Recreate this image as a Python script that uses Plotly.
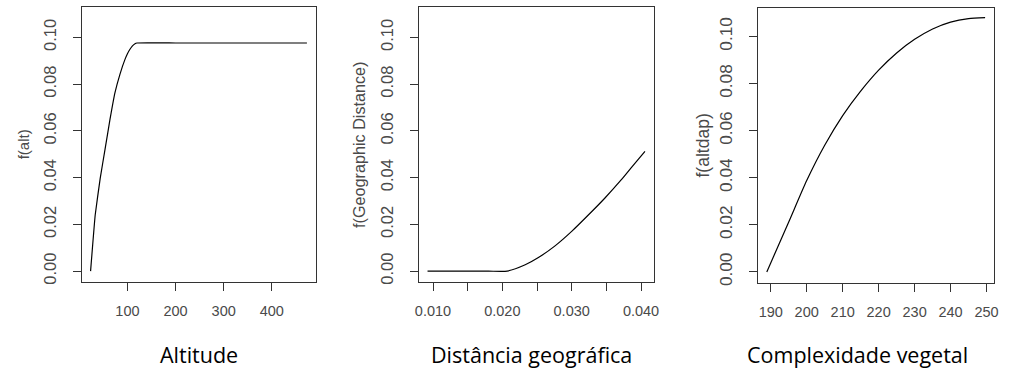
import plotly.graph_objects as go

# ---- data ----
alt_x = [23.4, 33, 43.3, 53.6, 63.8, 74.1, 84.4, 94.7, 100, 104.9, 110, 115, 120, 200, 300, 400, 473]
alt_y = [0.0, 0.024, 0.0396, 0.0523, 0.065, 0.0764, 0.0842, 0.0905, 0.0930, 0.0948, 0.0963, 0.0972, 0.0976, 0.0976, 0.0976, 0.0976, 0.0976]

geo_x = [0.00921, 0.012, 0.015, 0.018, 0.0207, 0.0233, 0.0252, 0.0276, 0.0300, 0.0324, 0.0348, 0.0371, 0.0386, 0.04057]
geo_y = [0.0, 0.0, 0.0, 0.0, 0.0, 0.0027, 0.0058, 0.0108, 0.0170, 0.0240, 0.0313, 0.0389, 0.0443, 0.0512]

veg_x = [188.9, 195, 200, 205, 210, 215, 220, 225, 230, 235, 240, 245, 249.6]
veg_y = [0.0, 0.0212, 0.0388, 0.0538, 0.0664, 0.0768, 0.0857, 0.0930, 0.0988, 0.1032, 0.1061, 0.1076, 0.1080]

y_ticks = [0.0, 0.02, 0.04, 0.06, 0.08, 0.10]
y_ticktext = ["0.00", "0.02", "0.04", "0.06", "0.08", "0.10"]
alt_ticks = [100, 200, 300, 400]
geo_ticks = [0.010, 0.015, 0.020, 0.025, 0.030, 0.035, 0.040]
geo_ticktext = ["0.010", "", "0.020", "", "0.030", "", "0.040"]
veg_ticks = [190, 200, 210, 220, 230, 240, 250]

y_titles = ["f(alt)", "f(Geographic Distance)", "f(altdap)"]
x_captions = ["Altitude", "Distância geográfica", "Complexidade vegetal"]

W, H = 1010, 377

fig = go.Figure()
fig.add_trace(go.Scatter(x=alt_x, y=alt_y, mode="lines", line=dict(color="black", width=1.2, shape="spline", smoothing=0.3),
                         xaxis="x", yaxis="y", showlegend=False))
fig.add_trace(go.Scatter(x=geo_x, y=geo_y, mode="lines", line=dict(color="black", width=1.2, shape="spline", smoothing=0.6),
                         xaxis="x2", yaxis="y2", showlegend=False))
fig.add_trace(go.Scatter(x=veg_x, y=veg_y, mode="lines", line=dict(color="black", width=1.2, shape="spline", smoothing=0.6),
                         xaxis="x3", yaxis="y3", showlegend=False))

def px_dom(a, b, n):
    return [a / n, b / n]

def py_dom(top, bottom):
    return [1 - bottom / H, 1 - top / H]

tickfont = dict(family="Liberation Sans, Arial, sans-serif", size=14.5, color="#4a4a4a")
axcommon = dict(showline=True, mirror=True, linecolor="#333333", linewidth=1.2,
                ticks="outside", ticklen=8, tickcolor="#333333", tickwidth=1,
                showgrid=False, zeroline=False, fixedrange=True)

boxes = [
    dict(x0=78.7, x1=314.7, top=7.3, bottom=284.0, xr=[5.4, 491.0], yr=[-0.00454, 0.1129],
         xt=alt_ticks, xtt=[str(v) for v in alt_ticks]),
    dict(x0=419.0, x1=656.0, top=7.3, bottom=284.0, xr=[0.00796, 0.0418], yr=[-0.00454, 0.1129],
         xt=geo_ticks, xtt=geo_ticktext),
    dict(x0=761.7, x1=1000.0, top=8.3, bottom=285.0, xr=[186.5, 252.1], yr=[-0.0046, 0.112],
         xt=veg_ticks, xtt=[str(v) for v in veg_ticks]),
]
ytick_sizes = [16.5, 16.5, 17.2]

layout = dict(width=W, height=H, margin=dict(l=0, r=0, t=0, b=0),
              paper_bgcolor="white", plot_bgcolor="white", showlegend=False)
for i, b in enumerate(boxes):
    sx = "" if i == 0 else str(i + 1)
    layout["xaxis" + sx] = dict(axcommon, domain=px_dom(b["x0"], b["x1"], W), range=b["xr"],
                                tickmode="array", tickvals=b["xt"], ticktext=b["xtt"],
                                tickfont=tickfont, ticklabelstandoff=8,
                                anchor="y" + sx)
    layout["yaxis" + sx] = dict(axcommon, domain=py_dom(b["top"], b["bottom"]), range=b["yr"],
                                tickmode="array", tickvals=y_ticks, ticktext=y_ticktext,
                                tickfont=dict(tickfont, size=ytick_sizes[i]), tickangle=-90,
                                ticklabelstandoff=10, anchor="x" + sx)
fig.update_layout(**layout)

# y-axis titles (rotated) and bottom captions
ytitle_x = [20, 359, 706]
ytitle_size = [15, 16.2, 17.5]
for i, b in enumerate(boxes):
    fig.add_annotation(text=y_titles[i], xref="paper", yref="paper",
                       x=ytitle_x[i] / W, y=1 - ((b["top"] + b["bottom"]) / 2) / H,
                       showarrow=False, textangle=-90, xanchor="center", yanchor="middle",
                       font=dict(family="Liberation Sans, Arial, sans-serif", size=ytitle_size[i], color="#4a4a4a"))

cap_x = [197, 533, 862]
for i in range(3):
    fig.add_annotation(text=x_captions[i], xref="paper", yref="paper",
                       x=cap_x[i] / W, y=1 - 357 / H, showarrow=False,
                       xanchor="center", yanchor="middle",
                       font=dict(family="Open Sans, sans-serif", size=21.5, color="black"))

fig.write_html("out.html")
